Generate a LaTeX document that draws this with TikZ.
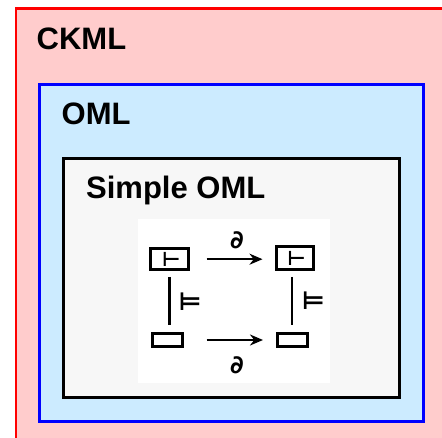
\documentclass[tikz,border=0pt]{standalone}
\usepackage{fontspec}
\setmainfont{Liberation Sans}
\newfontfamily\symfont{DejaVu Sans}
\usetikzlibrary{arrows.meta}
\definecolor{pinkbg}{RGB}{255,204,204}
\definecolor{bluebg}{RGB}{204,235,255}
\definecolor{greybg}{RGB}{247,247,247}
\tikzset{
  title/.style={anchor=base west, inner sep=0pt, font=\fontsize{31}{31}\selectfont\bfseries},
  sbox/.style={draw=black, line width=3pt, fill=white, inner sep=0pt, font=\symfont\bfseries\fontsize{20}{20}\selectfont},
  sym/.style={inner sep=0pt, font=\symfont\bfseries\fontsize{25}{25}\selectfont},
  arr/.style={line width=2.6pt, -{Stealth[length=13pt,width=11pt]}},
  vline/.style={line width=2.6pt},
}
\begin{document}
\begin{tikzpicture}[x=1pt,y=-1pt]
\useasboundingbox (0,0) rectangle (442,438);
\begin{scope}
\clip (0,0) rectangle (442,438);
\draw[red, line width=2.5pt, fill=pinkbg] (16,8.3) rectangle (470,470);
\end{scope}
\node[title] (ckml) at (36.5,50) {CKML};
\draw[blue, line width=3pt, fill=bluebg] (39.7,84.7) rectangle (423.7,421.3);
\node[title] (oml) at (61.5,125) {OML};
\draw[black, line width=3pt, fill=greybg] (63.3,158.3) rectangle (399.5,398);
\node[title] (soml) at (86,199) {Simple OML};
\fill[white] (138,219) rectangle (330,383);
\node[sbox, minimum width=37.5pt, minimum height=21.5pt] (tl) at (169.3,259.2) {\hspace{4pt}⊢};
\node[sbox, minimum width=37pt, minimum height=23pt] (tr) at (294.5,258.3) {\hspace{4pt}⊢};
\node[sbox, minimum width=29.3pt, minimum height=13.7pt] (bl) at (167.5,340) {};
\node[sbox, minimum width=30pt, minimum height=13.7pt] (br) at (292,340) {};
\draw[arr, shorten <=17pt, shorten >=12pt] (tl.east) -- (tl.east -| tr.west);
\draw[arr, shorten <=23pt, shorten >=12.5pt] (bl.east) -- (br.west);
\draw[vline, shorten <=5.5pt, shorten >=7pt] (tl.south) -- (tl.south |- bl.north);
\draw[vline, shorten <=5.5pt, shorten >=7pt] (tr.south -| br.north) -- (br.north);
\node[sym] (d1) at (237,240) {∂};
\node[sym] (d2) at (237,365) {∂};
\node[sym] (m1) at (190,301.7) {⊨};
\node[sym] (m2) at (313.3,301) {⊨};
\end{tikzpicture}
\end{document}
